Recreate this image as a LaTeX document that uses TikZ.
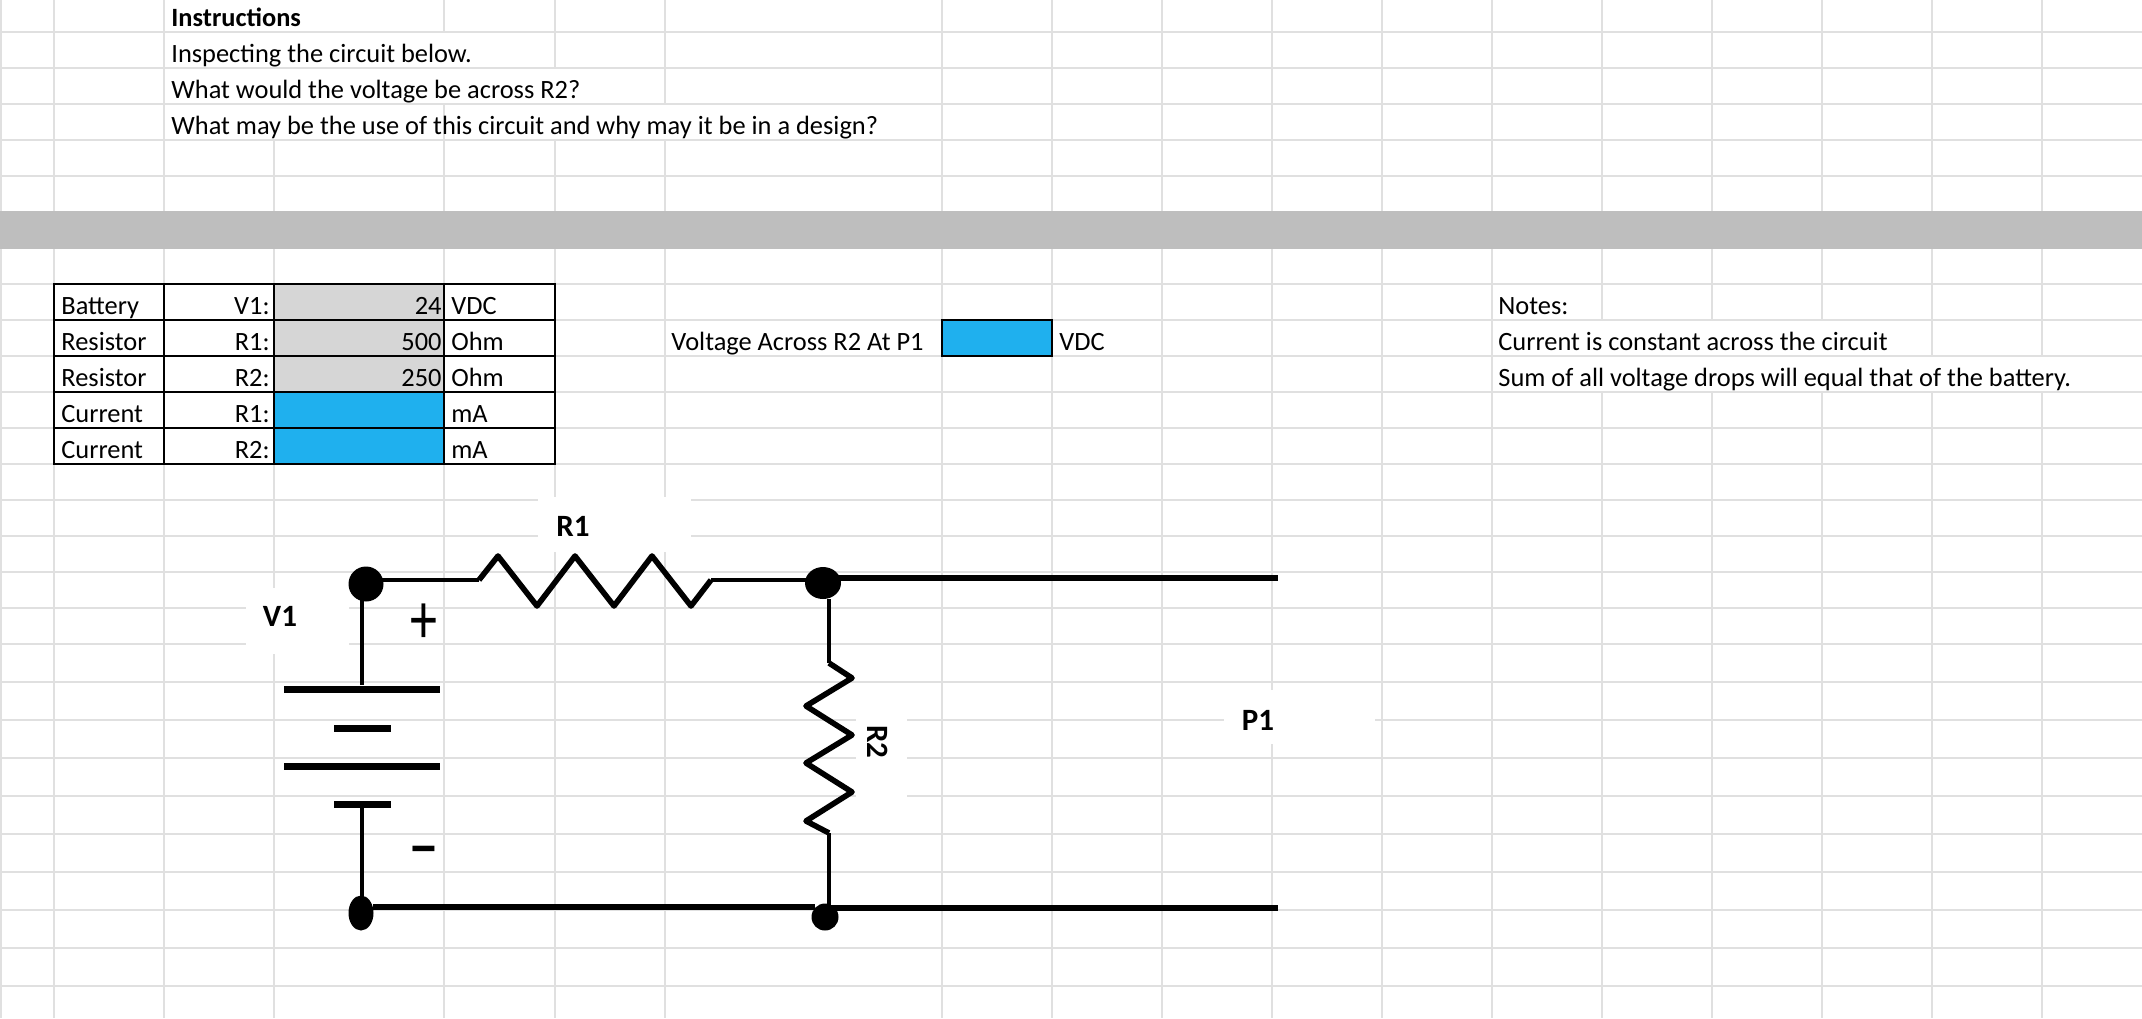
\documentclass[tikz,border=0pt]{standalone}
\usepackage{fontspec}
\setmainfont{Carlito}
\usepackage{tikz}
\usetikzlibrary{calc}
\usetikzlibrary{shapes}
\definecolor{gridgrey}{HTML}{E0E0E0}
\definecolor{bandgrey}{HTML}{BEBEBE}
\definecolor{inputgrey}{HTML}{D6D6D6}
\definecolor{answerblue}{HTML}{1FB0EE}
\tikzset{
    gridline/.style={draw=gridgrey,line width=1pt},
    cellbox/.style={draw=black,line width=1.15pt},
    wire/.style={draw=black,line width=2.1pt,line join=round},
    zigzag/.style={draw=black,line width=2.8pt,line join=round},
    bus/.style={draw=black,line width=3pt},
    blob/.style={shape=ellipse,draw=none,fill=black,inner sep=0pt},
    plate/.style={shape=rectangle,draw=none,fill=black,inner sep=0pt,minimum height=3.5pt},
    lablleft/.style={anchor=base west,inner sep=0pt,font=\fontsize{13.2}{13.2}\selectfont},
    lablright/.style={anchor=base east,inner sep=0pt,font=\fontsize{13.2}{13.2}\selectfont},
    lablpart/.style={inner sep=0pt,font=\fontsize{15.5}{15.5}\selectfont\bfseries},
}
\newcommand{\hgrid}[1]{\draw[gridline] (0,#1) -- (2142,#1);}
\newcommand{\vgrid}[3]{\draw[gridline] (#1,#2) -- (#1,#3);}
\newcommand{\maskbox}[4]{\fill[white] (#1,#2) rectangle (#3,#4);}
\newcommand{\cell}[5]{\draw[cellbox,fill=#5] (#1,#2) rectangle (#3,#4);}
\newcommand{\lablleft}[4]{\node[lablleft] (#1) at (#2,#3) {#4};}
\newcommand{\lablright}[4]{\node[lablright] (#1) at (#2,#3) {#4};}
\begin{document}
\begin{tikzpicture}[x=0.5pt,y=-0.5pt]
            \useasboundingbox (0,0) rectangle (2142,1018);

            % grid, rows
            \hgrid{32} \hgrid{68} \hgrid{104} \hgrid{140} \hgrid{176}
            \hgrid{284} \hgrid{320} \hgrid{356} \hgrid{392} \hgrid{428}
            \hgrid{464} \hgrid{500} \hgrid{536} \hgrid{572} \hgrid{608}
            \hgrid{644} \hgrid{682} \hgrid{720} \hgrid{758} \hgrid{796}
            \hgrid{834} \hgrid{872} \hgrid{910} \hgrid{948} \hgrid{986}

            % grid, columns
            \vgrid{1}{0}{1018}
            \vgrid{54}{0}{1018}
            \vgrid{164}{0}{1018}
            \vgrid{274}{140}{1018}
            \vgrid{444}{0}{32}
            \vgrid{444}{104}{1018}
            \vgrid{555}{0}{68}
            \vgrid{555}{140}{1018}
            \vgrid{665}{0}{104}
            \vgrid{665}{140}{1018}
            \vgrid{942}{0}{1018}
            \vgrid{1052}{0}{1018}
            \vgrid{1162}{0}{1018}
            \vgrid{1272}{0}{1018}
            \vgrid{1382}{0}{1018}
            \vgrid{1492}{0}{1018}
            \vgrid{1602}{0}{320}
            \vgrid{1602}{392}{1018}
            \vgrid{1712}{0}{320}
            \vgrid{1712}{392}{1018}
            \vgrid{1822}{0}{320}
            \vgrid{1822}{392}{1018}
            \vgrid{1932}{0}{356}
            \vgrid{1932}{392}{1018}
            \vgrid{2042}{0}{356}
            \vgrid{2042}{392}{1018}

            % band
            \fill[bandgrey] (0,211) rectangle (2142,249);

            % blank boxes behind the part labels
            \maskbox{538}{497}{691}{552}
            \maskbox{246}{588}{349}{654}
            \maskbox{856}{700}{907}{810}
            \maskbox{1224}{690}{1375}{744}

            % instructions
            \lablleft{instrhead}{171}{26}{\bfseries Instructions}
            \lablleft{instra}{171}{62}{Inspecting the circuit below.}
            \lablleft{instrb}{171}{98}{What would the voltage be across R2?}
            \lablleft{instrc}{171}{134}{What may be the use of this circuit and why may it be in a design?}

            % table
            \cell{54}{284}{164}{320}{white}
            \cell{164}{284}{274}{320}{white}
            \cell{274}{284}{444}{320}{inputgrey}
            \cell{444}{284}{555}{320}{white}

            \cell{54}{320}{164}{356}{white}
            \cell{164}{320}{274}{356}{white}
            \cell{274}{320}{444}{356}{inputgrey}
            \cell{444}{320}{555}{356}{white}

            \cell{54}{356}{164}{392}{white}
            \cell{164}{356}{274}{392}{white}
            \cell{274}{356}{444}{392}{inputgrey}
            \cell{444}{356}{555}{392}{white}

            \cell{54}{392}{164}{428}{white}
            \cell{164}{392}{274}{428}{white}
            \cell{274}{392}{444}{428}{answerblue}
            \cell{444}{392}{555}{428}{white}

            \cell{54}{428}{164}{464}{white}
            \cell{164}{428}{274}{464}{white}
            \cell{274}{428}{444}{464}{answerblue}
            \cell{444}{428}{555}{464}{white}

            % row 1
            \lablleft{kinda}{61}{314.5}{Battery}
            \lablright{namea}{270}{314.5}{V1:}
            \lablright{vala}{442}{314.5}{24}
            \lablleft{unita}{451}{314.5}{VDC}

            % row 2
            \lablleft{kindb}{61}{350.5}{Resistor}
            \lablright{nameb}{270}{350.5}{R1:}
            \lablright{valb}{442}{350.5}{500}
            \lablleft{unitb}{451}{350.5}{Ohm}

            % row 3
            \lablleft{kindc}{61}{386.5}{Resistor}
            \lablright{namec}{270}{386.5}{R2:}
            \lablright{valc}{442}{386.5}{250}
            \lablleft{unitc}{451}{386.5}{Ohm}

            % row 4
            \lablleft{kindd}{61}{422.5}{Current}
            \lablright{named}{270}{422.5}{R1:}
            \lablleft{unitd}{451}{422.5}{mA}

            % row 5
            \lablleft{kinde}{61}{458.5}{Current}
            \lablright{namee}{270}{458.5}{R2:}
            \lablleft{unite}{451}{458.5}{mA}

            % answer box
            \lablleft{volt}{671}{350.5}{Voltage Across R2 At P1}
            \cell{942}{320}{1052}{356}{answerblue}
            \lablleft{voltunit}{1059}{350.5}{VDC}

            % notes
            \lablleft{notehead}{1498}{314}{Notes:}
            \lablleft{notea}{1498}{350}{Current is constant across the circuit}
            \lablleft{noteb}{1498}{386}{Sum of all voltage drops will equal that of the battery.}

            % junctions
            \node[blob,minimum width=17.5pt,minimum height=17.5pt] (dotTL) at (366,584) {};
            \node[blob,minimum width=18pt,minimum height=16pt] (dotTR) at (823,583) {};
            \node[blob,minimum width=12.5pt,minimum height=17.5pt] (dotBL) at (361,913) {};
            \node[blob,minimum width=13.5pt,minimum height=13.5pt] (dotBR) at (825,917) {};

            % battery
            \node[plate,minimum width=78pt] (plateA) at (362,689) {};
            \node[plate,minimum width=28.5pt] (plateB) at (362,728) {};
            \node[plate,minimum width=78pt] (plateC) at (362,766) {};
            \node[plate,minimum width=28.5pt] (plateD) at (362,804) {};

            % free ends and resistor ends
            \coordinate (Rain) at (479,580);
            \coordinate (Raout) at (711,580);
            \coordinate (Rbin) at (829,663);
            \coordinate (Rbout) at (829,833);
            \coordinate (ptop) at (1278,578);
            \coordinate (pbot) at (1278,908);
            \coordinate (busbl) at (373,906.5);

            % wires
            \draw[wire] (plateA) -- (plateA |- dotTL);
            \draw[wire] (dotTL |- Rain) -- (Rain);
            \draw[wire] (Raout) -- (dotTR |- Raout);
            \draw[zigzag] (Rain)
                -- (498,556) -- (537,606) -- (575,556) -- (614,606) -- (652,556) -- (691,606)
                -- (Raout);
            \draw[wire] (plateD) -- (plateD |- dotBL);
            \draw[wire] (dotTR.south -| Rbin) -- (Rbin);
            \draw[zigzag] (Rbin)
                -- (852,678) -- (806,706) -- (852,735) -- (806,763) -- (852,792) -- (806,821)
                -- (Rbout);
            \draw[wire] (Rbout) -- (Rbout |- dotBR);

            % rails
            \draw[bus] (dotTR |- ptop) -- (ptop);
            \draw[bus] (busbl) -- (815,906.5);
            \draw[bus] (dotBR |- pbot) -- (pbot);

            % part labels
            \node[lablpart] (labR) at (573,526) {R1};
            \node[lablpart] (labV) at (280,616) {V1};
            \node[lablpart,rotate=-90] (labS) at (878,742) {R2};
            \node[lablpart] (labP) at (1258,720) {P1};

            % polarity
            \node[inner sep=0pt,font=\fontsize{36}{36}\selectfont] (plus) at (424,624) {\scalebox{.75}[1]{+}};
            \node[inner sep=0pt,font=\fontsize{31}{31}\selectfont\bfseries] (minus) at (424,856) {\textendash};
\end{tikzpicture}
\end{document}
